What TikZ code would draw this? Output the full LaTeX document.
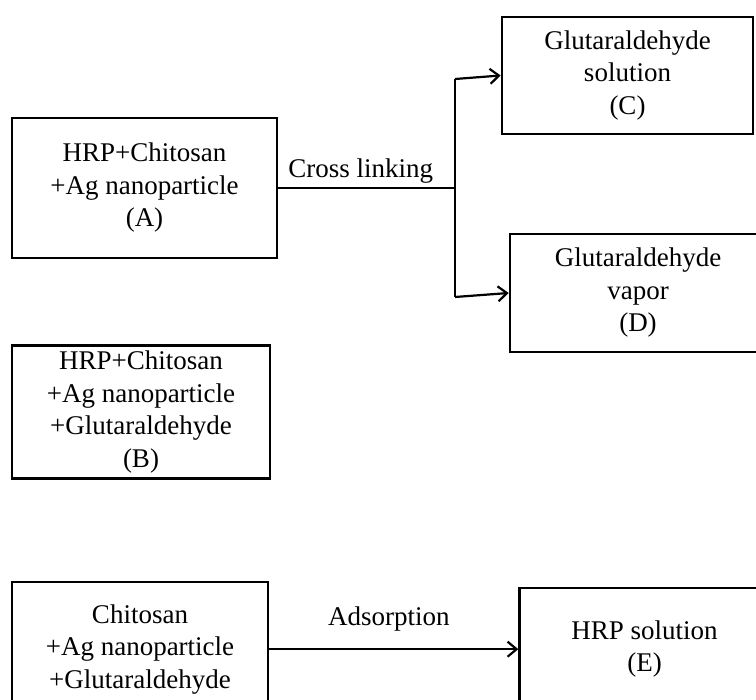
\documentclass[tikz,border=0pt]{standalone}
\usepackage{fontspec}
\setmainfont{Liberation Serif}
\usetikzlibrary{arrows.meta,positioning}
\tikzset{
    %Define standard arrow tip
    >={Straight Barb[length=9pt,width=15pt,line width=2.2pt]},
    %Define style for boxes
    kotak/.style={
           rectangle,
           draw=black, line width=2.6pt,
           align=center,
           font=\fontsize{27}{32.5}\selectfont,
           inner sep=0pt},
    % Define text style
    teks/.style={
           font=\fontsize{27}{32.5}\selectfont,
           inner sep=0pt},
    % Define arrow style
    pil/.style={
           ->,
           line width=2.2pt}
}

\begin{document}
\begin{tikzpicture}[x=1pt,y=1pt]
\useasboundingbox (0,0) rectangle (756,-700);
\clip (0,0) rectangle (756,-700);
%Nodes
\node[kotak, minimum width=265pt, minimum height=140pt] (hrpA) at (144.5,-188)
     {HRP+Chitosan\\+Ag nanoparticle\\(A)};
\node[kotak, minimum width=258pt, minimum height=133pt] (hrpB)
     [below right=85pt and 0pt of hrpA.south west]
     {HRP+Chitosan\\+Ag nanoparticle\\+Glutaraldehyde\\(B)};
\node[kotak, minimum width=251pt, minimum height=117pt] (larC) at (627.5,-75.5)
     {Glutaraldehyde\\solution\\(C)};
\node[kotak, minimum width=256pt, minimum height=118pt] (uapD) at (638,-293)
     {Glutaraldehyde\\vapor\\(D)};
\node[kotak, minimum width=256pt, minimum height=134pt] (hrpF)
     [below right=101pt and 0pt of hrpB.south west]
     {Chitosan\\+Ag nanoparticle\\+Glutaraldehyde};
\node[kotak, minimum width=250pt, minimum height=122pt] (larE)
     [right=249pt of hrpF]
     {HRP solution\\(E)};
%Branch
\coordinate (simpang) at (455,-188);
\coordinate (atas) at (455,-79);
\coordinate (bawah) at (455,-297);
\draw[line width=2.2pt] (hrpA.east) -- node[teks, above=4pt, xshift=-6pt] {Cross linking} (simpang);
\draw[line width=2.2pt] (atas) -- (bawah);
\draw[pil] (atas) -- (larC.west);
\draw[pil] (bawah) -- (uapD.west);
\draw[pil] (hrpF.east) -- node[teks, above=17pt, xshift=-5pt] {Adsorption} (larE.west);
\end{tikzpicture}
\end{document}
